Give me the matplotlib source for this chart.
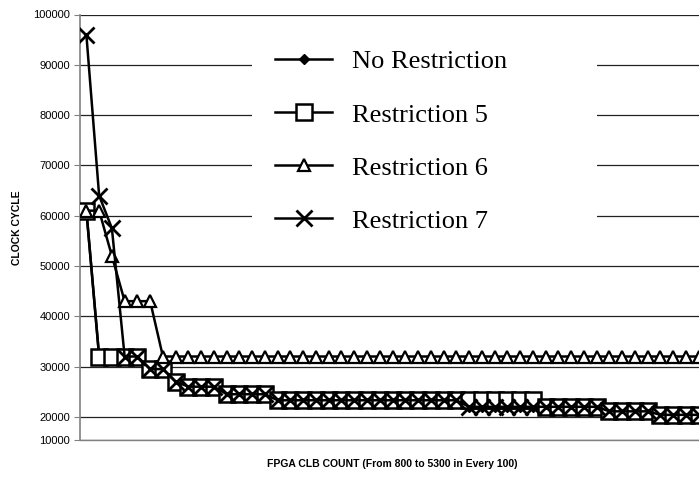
import matplotlib
matplotlib.use('Agg')
import matplotlib.pyplot as plt
from matplotlib.patches import Rectangle

# FPGA CLB count on the category axis, one point every 100 CLBs
clb_count = list(range(800, 5700, 100))

no_restriction = [61000, 32000, 32000, 32000, 32000, 29500, 29500, 27000, 26000, 26000,
                  26000, 24500, 24500, 24500, 24500, 23300, 23300, 23300, 23300, 23300,
                  23300, 23300, 23300, 23300, 23300, 23300, 23300, 23300, 23300, 23300,
                  22000, 22000, 22000, 22000, 22000, 22000, 22000, 22000, 22000, 22000,
                  22000, 21100, 21100, 21100, 21100, 20400, 20400, 20400, 20400]
restriction_5 = [61000, 32000, 32000, 32000, 32000, 29500, 29500, 27000, 26000, 26000,
                 26000, 24500, 24500, 24500, 24500, 23300, 23300, 23300, 23300, 23300,
                 23300, 23300, 23300, 23300, 23300, 23300, 23300, 23300, 23300, 23300,
                 23300, 23300, 23300, 23300, 23300, 23300, 22000, 22000, 22000, 22000,
                 22000, 21100, 21100, 21100, 21100, 20400, 20400, 20400, 20400]
restriction_6 = [61000, 61000, 52000, 43000, 43000, 43000, 32000, 32000, 32000, 32000,
                 32000, 32000, 32000, 32000, 32000, 32000, 32000, 32000, 32000, 32000,
                 32000, 32000, 32000, 32000, 32000, 32000, 32000, 32000, 32000, 32000,
                 32000, 32000, 32000, 32000, 32000, 32000, 32000, 32000, 32000, 32000,
                 32000, 32000, 32000, 32000, 32000, 32000, 32000, 32000, 32000]
restriction_7 = [96000, 64000, 57500, 32000, 32000, 29500, 29500, 27000, 26000, 26000,
                 26000, 24500, 24500, 24500, 24500, 23300, 23300, 23300, 23300, 23300,
                 23300, 23300, 23300, 23300, 23300, 23300, 23300, 23300, 23300, 23300,
                 22000, 22000, 22000, 22000, 22000, 22000, 22000, 22000, 22000, 22000,
                 22000, 21100, 21100, 21100, 21100, 20400, 20400, 20400, 20400]

y_ticks = [20000, 30000, 40000, 50000, 60000, 70000, 80000, 90000, 100000]
y_bottom = 15400

plt.rcParams['font.family'] = ['Liberation Sans', 'DejaVu Sans']

W, H = 699, 497
fig = plt.figure(figsize=(W/100, H/100), dpi=100)
ax = fig.add_axes([80/W, 57/H, 625/W, 425.5/H])

x = list(range(len(clb_count)))
lw = 1.8
ax.plot(x, no_restriction, '-', color='black', lw=lw, marker='D', ms=5.5,
        mfc='black', mec='black', label='No Restriction', zorder=3)
ax.plot(x, restriction_5, '-', color='black', lw=lw, marker='s', ms=11.5,
        mfc='white', mec='black', mew=1.8, label='Restriction 5', zorder=4)
ax.plot(x, restriction_6, '-', color='black', lw=lw, marker='^', ms=9,
        mfc='white', mec='black', mew=1.6, label='Restriction 6', zorder=5)
ax.plot(x, restriction_7, '-', color='black', lw=lw, marker='x', ms=11.5,
        mec='black', mew=2.0, label='Restriction 7', zorder=6)

ax.set_xlim(-0.5, len(clb_count) - 0.5)
ax.set_ylim(y_bottom, 100000)
ax.set_yticks([y_bottom] + y_ticks)
ax.set_yticklabels(['10000'] + [str(v) for v in y_ticks], fontsize=8)
ax.set_xticks([])
ax.tick_params(axis='y', direction='out', length=4, width=0.8, color='#808080', pad=3)
ax.grid(axis='y', color='#222222', lw=0.9)
ax.set_axisbelow(True)

for side in ['top', 'right']:
    ax.spines[side].set_visible(False)
ax.spines['left'].set_color('#808080')
ax.spines['left'].set_linewidth(1.2)
ax.spines['bottom'].set_color('#808080')
ax.spines['bottom'].set_linewidth(1.0)

ax.set_ylabel('CLOCK CYCLE', fontsize=7.5, fontweight='bold', labelpad=8)
ax.set_xlabel('FPGA CLB COUNT (From 800 to 5300 in Every 100)', fontsize=7.5,
              fontweight='bold', labelpad=14)

# white legend area that hides the gridlines behind it
ax.add_patch(Rectangle((252/W, 1 - 245/H), (597 - 252)/W, (245 - 30)/H,
                       transform=fig.transFigure, facecolor='white',
                       edgecolor='none', zorder=8))

leg = ax.legend(loc='upper left', bbox_to_anchor=(275/W, 1 - 50/H),
                bbox_transform=fig.transFigure,
                prop={'family': 'Liberation Serif', 'size': 19},
                frameon=False, handlelength=2.16, handletextpad=0.76,
                labelspacing=1.12, borderpad=0, borderaxespad=0)
leg.set_zorder(10)

fig.savefig('out.png', dpi=100)
